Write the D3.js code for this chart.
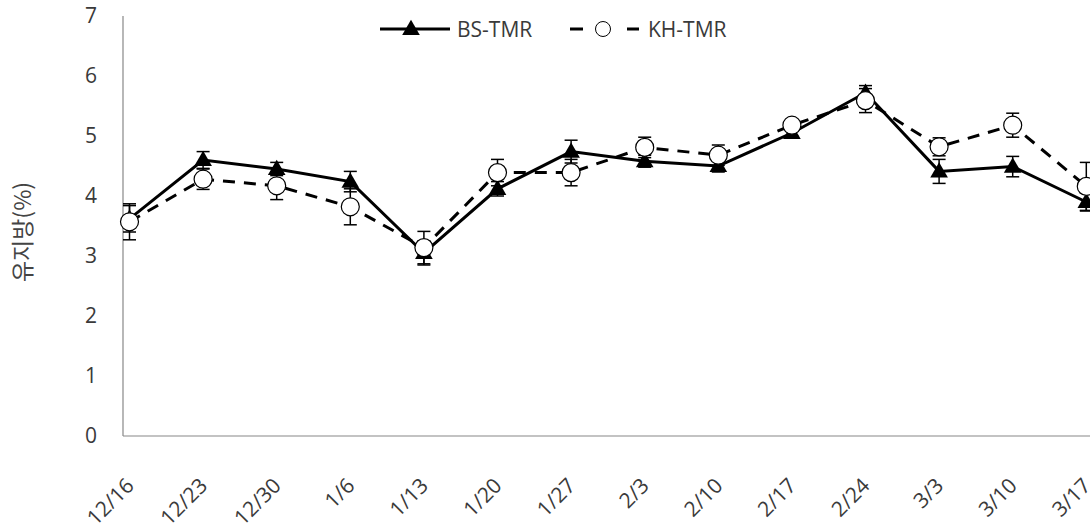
<!DOCTYPE html>
<html>
<head>
<meta charset="utf-8">
<script src="https://cdn.jsdelivr.net/npm/d3@7"></script>
<style>
  html, body { margin: 0; padding: 0; background: #fff; overflow: hidden; }
  svg { display: block; font-family: "Open Sans", "Noto Sans", sans-serif; }
  .tick text { fill: #3a3a3a; font-size: 21px; font-family: "Open Sans", "Noto Sans", sans-serif; }
</style>
</head>
<body>
<svg id="chart" width="1090" height="530"></svg>
<script>
const dates = ['12/16', '12/23', '12/30', '1/6', '1/13', '1/20', '1/27', '2/3', '2/10', '2/17', '2/24', '3/3', '3/10', '3/17'];
const bsValues = [3.62, 4.6, 4.45, 4.24, 3.05, 4.12, 4.74, 4.58, 4.5, 5.05, 5.72, 4.41, 4.49, 3.9];
const bsErrors = [0.22, 0.14, 0.11, 0.17, 0.2, 0.12, 0.19, 0.1, 0.1, 0.05, 0.12, 0.2, 0.17, 0.15];
const khValues = [3.57, 4.28, 4.17, 3.82, 3.14, 4.39, 4.39, 4.81, 4.68, 5.18, 5.59, 4.82, 5.18, 4.16];
const khErrors = [0.3, 0.17, 0.23, 0.3, 0.27, 0.22, 0.22, 0.17, 0.17, 0.06, 0.2, 0.15, 0.2, 0.4];
const yTicks = [0, 1, 2, 3, 4, 5, 6, 7];

const svg = d3.select('#chart');
const x = d3.scalePoint().domain(dates).range([129.5, 1086.3]);
const y = d3.scaleLinear().domain([0, 7]).range([436, 16]);
const axisLeftX = 123;

// axes
const gy = svg.append('g').attr('transform', `translate(${axisLeftX},0)`)
  .call(d3.axisLeft(y).tickValues(yTicks).tickSize(0).tickPadding(26).tickFormat(d3.format('d')));
gy.select('.domain').remove();
svg.append('line').attr('x1', axisLeftX).attr('x2', axisLeftX).attr('y1', y(7)).attr('y2', y(0))
  .attr('stroke', '#888').attr('stroke-width', 1.2);

const gx = svg.append('g').attr('transform', `translate(0,${y(0)})`)
  .call(d3.axisBottom(x).tickSize(0));
gx.select('.domain').remove();
gx.selectAll('.tick text')
  .attr('text-anchor', 'end')
  .attr('dy', 0)
  .attr('transform', 'translate(3,49) rotate(-45)');
svg.append('line').attr('x1', axisLeftX).attr('x2', 1090).attr('y1', y(0)).attr('y2', y(0))
  .attr('stroke', '#888').attr('stroke-width', 1.2);

svg.append('text')
  .attr('transform', `translate(31,${y(3.4)}) rotate(-90)`)
  .attr('text-anchor', 'middle')
  .style('font-family', '"Noto Sans CJK KR", "Open Sans", sans-serif')
  .style('font-size', '23px')
  .attr('fill', '#444')
  .text('유지방(%)');

const line = d3.line().x((d, i) => x(dates[i])).y((d) => y(d));
const triangle = d3.symbol().type(d3.symbolTriangle).size(135);

function drawErrors(values, errors) {
  const g = svg.append('g').attr('stroke', '#000').attr('stroke-width', 1.5);
  values.forEach((v, i) => {
    const cx = x(dates[i]);
    g.append('line').attr('x1', cx).attr('x2', cx).attr('y1', y(v - errors[i])).attr('y2', y(v + errors[i]));
    [v - errors[i], v + errors[i]].forEach((e) => {
      g.append('line').attr('x1', cx - 6.5).attr('x2', cx + 6.5).attr('y1', y(e)).attr('y2', y(e));
    });
  });
}

// BS-TMR
svg.append('path').datum(bsValues).attr('d', line)
  .attr('fill', 'none').attr('stroke', '#000').attr('stroke-width', 3);
drawErrors(bsValues, bsErrors);
svg.append('g').selectAll('path').data(bsValues).join('path')
  .attr('d', triangle)
  .attr('transform', (d, i) => `translate(${x(dates[i])},${y(d) + 1})`)
  .attr('fill', '#000');

// KH-TMR
svg.append('path').datum(khValues).attr('d', line)
  .attr('fill', 'none').attr('stroke', '#000').attr('stroke-width', 3).attr('stroke-dasharray', '12,9');
drawErrors(khValues, khErrors);
svg.append('g').selectAll('circle').data(khValues).join('circle')
  .attr('cx', (d, i) => x(dates[i])).attr('cy', (d) => y(d)).attr('r', 9)
  .attr('fill', '#fff').attr('stroke', '#000').attr('stroke-width', 1.2);

// legend
const legend = svg.append('g');
legend.append('line').attr('x1', 380).attr('x2', 450).attr('y1', 29).attr('y2', 29)
  .attr('stroke', '#000').attr('stroke-width', 3);
legend.append('path').attr('d', triangle).attr('transform', 'translate(411,30)').attr('fill', '#000');
legend.append('text').attr('x', 457).attr('y', 37).attr('fill', '#3a3a3a').style('font-size', '21px').text('BS-TMR');
legend.append('line').attr('x1', 570).attr('x2', 639).attr('y1', 29).attr('y2', 29)
  .attr('stroke', '#000').attr('stroke-width', 3).attr('stroke-dasharray', '13,44');
legend.append('circle').attr('cx', 603).attr('cy', 29).attr('r', 7.5)
  .attr('fill', '#fff').attr('stroke', '#000').attr('stroke-width', 1);
legend.append('text').attr('x', 648).attr('y', 37).attr('fill', '#3a3a3a').style('font-size', '21px').text('KH-TMR');
</script>
</body>
</html>
